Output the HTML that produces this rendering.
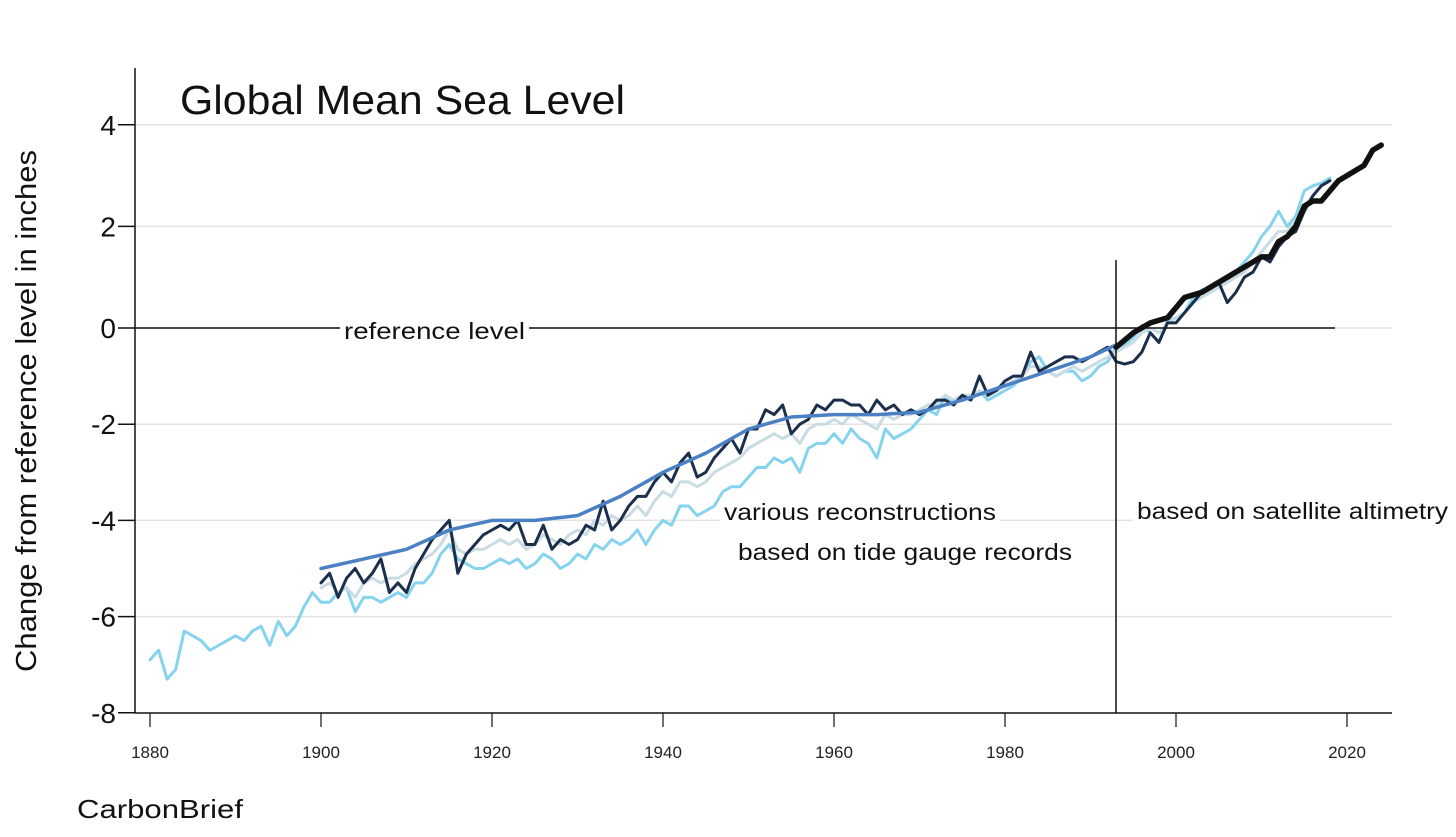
<!DOCTYPE html>
<html><head><meta charset="utf-8"><style>
body{margin:0;background:#fff;width:1456px;height:832px;overflow:hidden;font-family:"Liberation Sans",sans-serif}
svg text{font-family:"Liberation Sans",sans-serif}
</style></head><body>
<svg id="chart" width="1456" height="832" viewBox="0 0 1456 832" xmlns="http://www.w3.org/2000/svg">
<g id="grid"></g>
<g id="series"></g>
<g id="axes"></g>
<text x="180" y="114" font-size="41" textLength="445" lengthAdjust="spacingAndGlyphs" fill="#111">Global Mean Sea Level</text>
<text transform="translate(36,411) rotate(-90)" text-anchor="middle" font-size="29" textLength="522" lengthAdjust="spacingAndGlyphs" fill="#111">Change from reference level in inches</text>
<text x="77" y="818" font-size="26" textLength="166" lengthAdjust="spacingAndGlyphs" fill="#111">CarbonBrief</text>
</svg>
<script>
const yTicks=[4,2,0,-2,-4,-6,-8];
const xTicks=[1880,1900,1920,1940,1960,1980,2000,2020];
const lightStart=1880;
const lightBlue=[-6.9,-6.7,-7.3,-7.1,-6.3,-6.4,-6.5,-6.7,-6.6,-6.5,-6.4,-6.5,-6.3,-6.2,-6.6,-6.1,-6.4,-6.2,-5.8,-5.5,
-5.7,-5.7,-5.5,-5.4,-5.9,-5.6,-5.6,-5.7,-5.6,-5.5,-5.6,-5.3,-5.3,-5.1,-4.7,-4.5,-4.8,-4.9,-5.0,-5.0,
-4.9,-4.8,-4.9,-4.8,-5.0,-4.9,-4.7,-4.8,-5.0,-4.9,-4.7,-4.8,-4.5,-4.6,-4.4,-4.5,-4.4,-4.2,-4.5,-4.2,
-4.0,-4.1,-3.7,-3.7,-3.9,-3.8,-3.7,-3.4,-3.3,-3.3,-3.1,-2.9,-2.9,-2.7,-2.8,-2.7,-3.0,-2.5,-2.4,-2.4,
-2.2,-2.4,-2.1,-2.3,-2.4,-2.7,-2.1,-2.3,-2.2,-2.1,-1.9,-1.7,-1.8,-1.4,-1.6,-1.4,-1.5,-1.3,-1.5,-1.4,
-1.3,-1.2,-1.0,-0.7,-0.6,-0.9,-1.0,-0.9,-0.9,-1.1,-1.0,-0.8,-0.7,-0.4,-0.35,-0.2,0.05,-0.1,-0.3,0.15,
0.2,0.3,0.6,0.75,0.8,0.9,0.95,1.1,1.3,1.5,1.8,2.0,2.3,2.0,2.2,2.7,2.8,2.85,2.95];
const recStart=1900;
const grayRecon=[-5.4,-5.3,-5.5,-5.4,-5.6,-5.3,-5.2,-5.3,-5.2,-5.2,-5.1,-4.9,-4.8,-4.7,-4.5,-4.2,-4.6,-4.7,-4.6,-4.6,
-4.5,-4.4,-4.5,-4.4,-4.6,-4.5,-4.3,-4.4,-4.5,-4.3,-4.2,-4.3,-4.0,-4.1,-3.9,-4.0,-3.9,-3.7,-3.9,-3.6,
-3.4,-3.5,-3.2,-3.2,-3.3,-3.2,-3.0,-2.9,-2.8,-2.7,-2.5,-2.4,-2.3,-2.2,-2.3,-2.2,-2.4,-2.1,-2.0,-2.0,
-1.9,-2.0,-1.8,-1.9,-2.0,-2.1,-1.8,-1.9,-1.8,-1.8,-1.7,-1.6,-1.6,-1.4,-1.5,-1.4,-1.4,-1.3,-1.4,-1.3,
-1.2,-1.1,-1.0,-0.8,-0.8,-0.9,-1.0,-0.9,-0.8,-0.9,-0.8,-0.7,-0.6,-0.5,-0.4,-0.3,-0.1,0.0,-0.1,0.1,
0.2,0.3,0.5,0.6,0.7,0.8,0.9,1.0,1.1,1.3,1.5,1.7,1.9,1.9,2.1,2.4,2.6,2.8,2.9];
const darkRecon=[-5.3,-5.1,-5.6,-5.2,-5.0,-5.3,-5.1,-4.8,-5.5,-5.3,-5.5,-5.0,-4.7,-4.4,-4.2,-4.0,-5.1,-4.7,-4.5,-4.3,
-4.2,-4.1,-4.2,-4.0,-4.5,-4.5,-4.1,-4.6,-4.4,-4.5,-4.4,-4.1,-4.2,-3.6,-4.2,-4.0,-3.7,-3.5,-3.5,-3.2,
-3.0,-3.2,-2.8,-2.6,-3.1,-3.0,-2.7,-2.5,-2.3,-2.6,-2.1,-2.1,-1.7,-1.8,-1.6,-2.2,-2.0,-1.9,-1.6,-1.7,
-1.5,-1.5,-1.6,-1.6,-1.8,-1.5,-1.7,-1.6,-1.8,-1.7,-1.8,-1.7,-1.5,-1.5,-1.6,-1.4,-1.5,-1.0,-1.4,-1.3,
-1.1,-1.0,-1.0,-0.5,-0.9,-0.8,-0.7,-0.6,-0.6,-0.7,-0.6,-0.5,-0.4,-0.7,-0.75,-0.7,-0.5,-0.1,-0.3,0.1,
0.1,0.3,0.5,0.7,0.8,0.9,0.5,0.7,1.0,1.1,1.4,1.3,1.6,1.8,1.9,2.3,2.6,2.8,2.9];
const smoothYears=[1900,1905,1910,1915,1920,1925,1930,1935,1940,1945,1950,1955,1960,1965,1970,1975,1980,1985,1990,1993];
const smoothVals=[-5.0,-4.8,-4.6,-4.2,-4.0,-4.0,-3.9,-3.5,-3.0,-2.6,-2.1,-1.85,-1.8,-1.8,-1.75,-1.5,-1.2,-0.9,-0.6,-0.35];
const satYears=[1993,1995,1997,1999,2000,2001,2003,2005,2007,2009,2010,2011,2012,2013,2014,2015,2016,2017,2018,2019,2020,2021,2022,2023,2024];
const satVals=[-0.4,-0.1,0.1,0.2,0.4,0.6,0.7,0.9,1.1,1.3,1.4,1.4,1.7,1.8,2.0,2.4,2.5,2.5,2.7,2.9,3.0,3.1,3.2,3.5,3.6];

const NS='http://www.w3.org/2000/svg';
const xs=yr=>150+(yr-1880)*(1347-150)/140;
const ys=v=>v>=0?328-v*50.8:328-v*48.1;
function mk(tag,attrs,parent){const e=document.createElementNS(NS,tag);for(const k in attrs)e.setAttribute(k,attrs[k]);parent.appendChild(e);return e;}
const grid=document.getElementById('grid'),axes=document.getElementById('axes'),series=document.getElementById('series');
yTicks.forEach(t=>{
  if(t!==-8){const g=mk('line',{x1:135,x2:1392,y1:ys(t),y2:ys(t),stroke:'#e3e3e3','stroke-width':1.5},grid);
  
  }
  const tk=mk('line',{x1:118,x2:135,y1:ys(t),y2:ys(t),stroke:'#111','stroke-width':1.5},axes);
  
  
  const tx=mk('text',{x:116,y:ys(t)+10,'text-anchor':'end','font-size':28,fill:'#111'},axes);
  tx.textContent=t;
  
  
});
xTicks.forEach(t=>{
  const tk=mk('line',{x1:xs(t),x2:xs(t),y1:713,y2:727,stroke:'#111','stroke-width':1.2},axes);
  
  
  const tx=mk('text',{x:xs(t),y:758,'text-anchor':'middle','font-size':17,fill:'#222'},axes);
  tx.textContent=t;
  
  
});
const ya=mk('line',{x1:135,x2:135,y1:68,y2:713,stroke:'#111','stroke-width':1.5},axes);


const xa=mk('line',{x1:135,x2:1392,y1:713,y2:713,stroke:'#111','stroke-width':1.5},axes);


function path(years,vals,color,w,name){
  const d=vals.map((v,i)=>(i?'L':'M')+xs(years[i]).toFixed(1)+','+ys(v).toFixed(1)).join('');
  const p=mk('path',{d:d,fill:'none',stroke:color,'stroke-width':w,'stroke-linejoin':'round','stroke-linecap':'round'},series);
  
  
}
const yrs=(s,n)=>Array.from({length:n},(_,i)=>s+i);
path(yrs(lightStart,lightBlue.length),lightBlue,'#86d3ef',3,'series-light-blue');
path(yrs(recStart,grayRecon.length),grayRecon,'#c9dbe3',3,'series-gray-reconstruction');
path(yrs(recStart,darkRecon.length),darkRecon,'#1b2f4c',3,'series-dark-reconstruction');
path(smoothYears,smoothVals,'#4b80c4',3.5,'series-smooth-blue');
path(satYears,satVals,'#111',5.5,'series-satellite');
const rl=mk('line',{x1:135,x2:1335,y1:328,y2:328,stroke:'#111','stroke-width':1.5},axes);


const vl=mk('line',{x1:1116,x2:1116,y1:260,y2:713,stroke:'#111','stroke-width':1.5},axes);


function label(x,y,w,txt,name){
  const r=mk('rect',{x:x-4,y:y-21,width:w+8,height:28,fill:'#fff'},axes);
  
  
  const t=mk('text',{x:x,y:y,'font-size':23,fill:'#111',textLength:w,lengthAdjust:'spacingAndGlyphs'},axes);
  t.textContent=txt;
  
  
}
label(344,339,181,'reference level','reference-level-label');
label(724,520,272,'various reconstructions','reconstructions-label');
label(738,560,334,'based on tide gauge records','tide-gauge-label');
label(1137,519,311,'based on satellite altimetry','satellite-label');
</script>
</body></html>
